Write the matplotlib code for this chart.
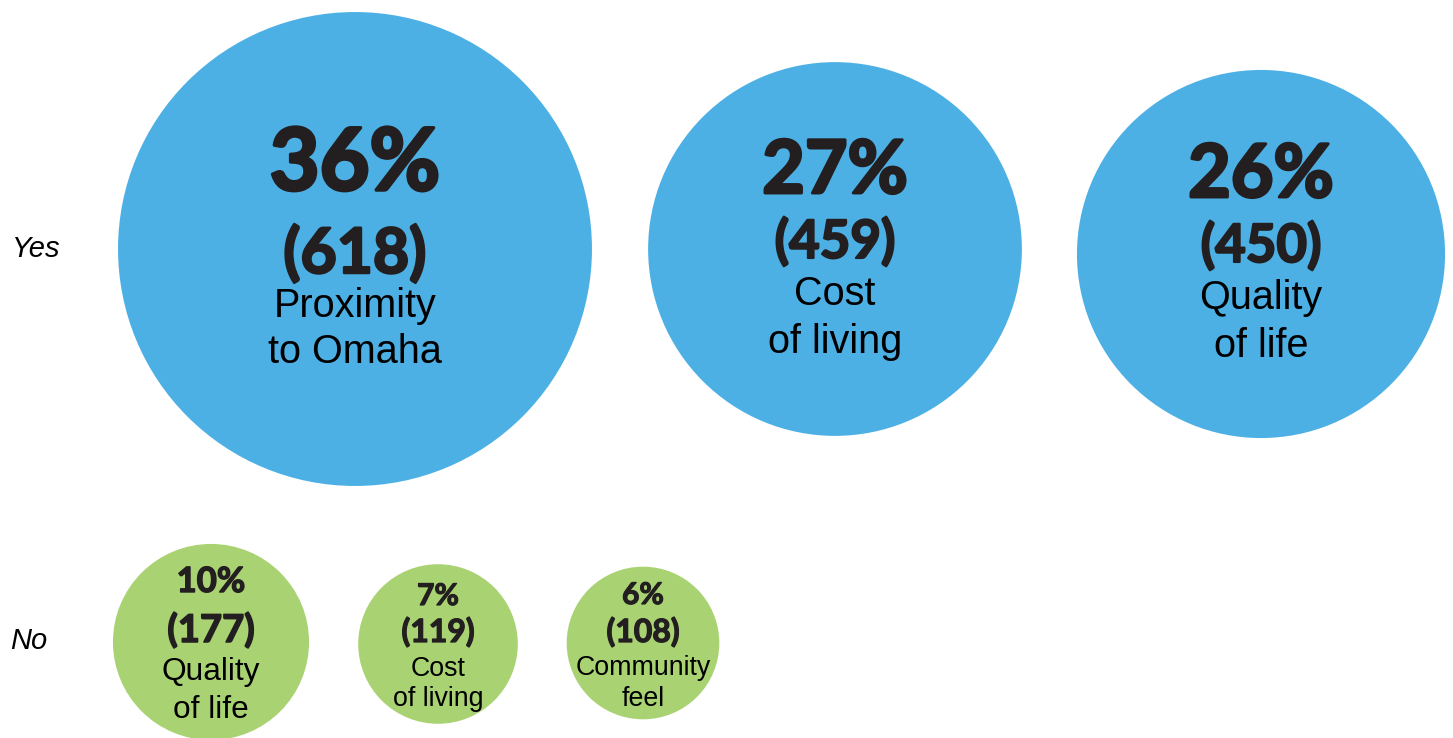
import matplotlib
matplotlib.use("Agg")
from matplotlib import pyplot as plt
from matplotlib.patches import Circle
from matplotlib import patheffects as pe

# data
yes_pct = [36, 27, 26]
yes_count = [618, 459, 450]
yes_reason = ["Proximity\nto Omaha", "Cost\nof living", "Quality\nof life"]

no_pct = [10, 7, 6]
no_count = [177, 119, 108]
no_reason = ["Quality\nof life", "Cost\nof living", "Community\nfeel"]

BLUE = "#4db0e5"
GREEN = "#a9d273"
INK = "#231f20"

HEAVY = ["Lato", "DejaVu Sans"]
LIGHT = ["Liberation Sans", "DejaVu Sans"]


def radius(count):
    # circle size grows with the count
    return 42.3 + 0.315 * count


fig = plt.figure(figsize=(14.53, 7.38), dpi=100)
ax = fig.add_axes([0, 0, 1, 1])
ax.set_xlim(0, 1453)
ax.set_ylim(738, 0)
ax.set_aspect("equal")
ax.axis("off")

# layout: centre x, centre y, font sizes (pct, count, reason), baselines rel. to centre
yes_layout = [
    (355, 249, 62, 45, 28.5, (-59, 24, 68, 114)),
    (835, 249, 53, 38, 28.5, (-56, 9, 56, 104)),
    (1261, 254, 53, 38, 28.5, (-57, 8, 55, 103)),
]
no_layout = [
    (211, 642, 25, 27.5, 22.8, (-50, 0, 38, 76)),
    (438, 644, 21.5, 23, 19.3, (-39, -2, 32, 62)),
    (643, 643, 21.5, 23, 19.3, (-39, -1, 32, 63)),
]


def heavy_text(x, y, s, size):
    t = ax.text(x, y, s, ha="center", va="baseline", fontsize=size,
                family=HEAVY, weight="bold", color=INK)
    t.set_path_effects([pe.withStroke(linewidth=size * 0.04, foreground=INK)])


def draw_row(pcts, counts, reasons, layout, color):
    for p, c, r, (cx, cy, fp, fc, fr, offs) in zip(pcts, counts, reasons, layout):
        ax.add_patch(Circle((cx, cy), radius(c), color=color, lw=0))
        heavy_text(cx, cy + offs[0], f"{p}%", fp)
        heavy_text(cx, cy + offs[1], f"({c})", fc)
        line1, line2 = r.split("\n")
        ax.text(cx, cy + offs[2], line1, ha="center", va="baseline",
                fontsize=fr, family=LIGHT, color="black")
        ax.text(cx, cy + offs[3], line2, ha="center", va="baseline",
                fontsize=fr, family=LIGHT, color="black")


draw_row(yes_pct, yes_count, yes_reason, yes_layout, BLUE)
draw_row(no_pct, no_count, no_reason, no_layout, GREEN)

ax.text(12, 249, "Yes", ha="left", va="center", fontsize=21,
        style="italic", family=LIGHT, color="black")
ax.text(10, 641, "No", ha="left", va="center", fontsize=21,
        style="italic", family=LIGHT, color="black")

fig.savefig("out.png", dpi=100)
